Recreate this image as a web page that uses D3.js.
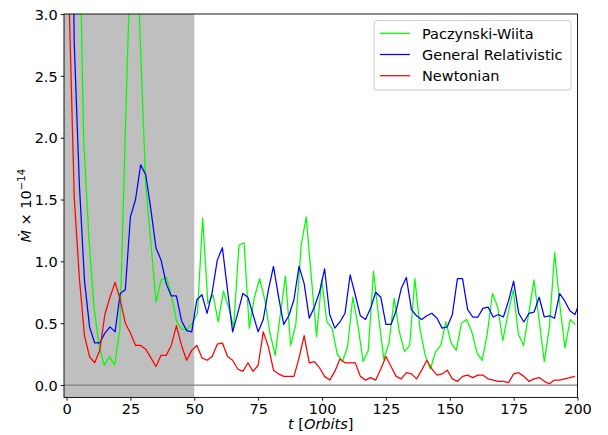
<!DOCTYPE html>
<html>
<head>
<meta charset="utf-8">
<script src="https://cdn.jsdelivr.net/npm/d3@7"></script>
<style>
  html, body { margin: 0; padding: 0; background: #fff; }
  svg { display: block; }
  text { font-family: "DejaVu Sans", sans-serif; fill: #000; }
</style>
</head>
<body>
<svg id="chart" width="608" height="435"></svg>
<script>
// Accretion rate (in units of 1e-14) versus time in orbits for three potentials.
// Newtonian and GR outputs are written every 2 orbits; the Paczynski-Wiita run
// uses a slightly longer output interval once converted to orbits.
const timeNewtonian = d3.range(1, 200, 2);
const timeGR = d3.range(1, 202, 2);
const pwStart = 0.6, pwStep = 2.026;
const timePW = d3.range(99).map(i => pwStart + pwStep * i);

const mdotNewtonian = [
  3.1, 1.52, 0.87, 0.40, 0.23, 0.18, 0.28, 0.57, 0.71, 0.83,
  0.69, 0.50, 0.42, 0.32, 0.32, 0.29, 0.22, 0.15, 0.24, 0.24,
  0.32, 0.48, 0.32, 0.20, 0.28, 0.32, 0.22, 0.20, 0.23, 0.33,
  0.34, 0.23, 0.20, 0.13, 0.11, 0.18, 0.11, 0.16, 0.43, 0.31,
  0.12, 0.09, 0.07, 0.07, 0.07, 0.22, 0.40, 0.18, 0.19, 0.14,
  0.07, 0.04, 0.11, 0.21, 0.18, 0.18, 0.18, 0.07, 0.04, 0.06,
  0.04, 0.13, 0.23, 0.15, 0.07, 0.05, 0.10, 0.09, 0.05, 0.12,
  0.20, 0.13, 0.08, 0.09, 0.12, 0.05, 0.03, 0.07, 0.08, 0.06,
  0.08, 0.08, 0.05, 0.04, 0.03, 0.03, 0.02, 0.09, 0.10, 0.07,
  0.03, 0.05, 0.06, 0.03, 0.01, 0.04, 0.04, 0.05, 0.06, 0.07
];

const mdotGR = [
  6.0, 2.77, 1.63, 0.85, 0.47, 0.34, 0.34, 0.42, 0.47, 0.43,
  0.74, 0.77, 1.36, 1.50, 1.78, 1.70, 1.42, 1.11, 1.01, 0.82,
  0.72, 0.72, 0.52, 0.44, 0.43, 0.69, 0.73, 0.58, 0.75, 1.01,
  1.11, 0.77, 0.43, 0.58, 0.74, 0.71, 0.57, 0.43, 0.53, 0.77,
  0.96, 0.71, 0.49, 0.56, 0.69, 0.96, 0.82, 0.54, 0.63, 0.75,
  0.94, 0.57, 0.46, 0.51, 0.58, 0.89, 0.73, 0.56, 0.53, 0.62,
  0.75, 0.71, 0.49, 0.49, 0.60, 0.78, 0.87, 0.61, 0.56, 0.53,
  0.56, 0.58, 0.54, 0.46, 0.47, 0.57, 0.86, 0.86, 0.61, 0.55,
  0.55, 0.62, 0.63, 0.55, 0.57, 0.55, 0.68, 0.84, 0.58, 0.51,
  0.58, 0.59, 0.71, 0.55, 0.56, 0.54, 0.74, 0.68, 0.60, 0.57,
  0.68
];

const mdotPW = [
  9.0, 6.5, 4.2, 2.0, 1.2, 0.63, 0.31, 0.16, 0.23, 0.16,
  0.45, 1.96, 3.4, 3.9, 2.72, 1.62, 1.15, 0.67, 0.85, 0.87,
  0.71, 0.51, 0.45, 0.45, 0.50, 0.58, 1.35, 0.66, 0.73, 0.51,
  0.76, 0.63, 0.47, 1.13, 1.15, 0.46, 0.71, 0.86, 0.69, 0.42,
  0.24, 0.57, 0.88, 0.32, 0.49, 1.12, 1.36, 0.87, 0.39, 0.85,
  0.51, 0.46, 0.25, 0.19, 0.31, 0.71, 0.48, 0.19, 0.28, 0.92,
  0.55, 0.21, 0.34, 0.70, 0.43, 0.27, 0.32, 0.86, 0.45, 0.24,
  0.13, 0.27, 0.32, 0.51, 0.34, 0.28, 0.50, 0.53, 0.43, 0.26,
  0.20, 0.42, 0.74, 0.63, 0.36, 0.58, 0.77, 0.41, 0.32, 0.58,
  0.85, 0.53, 0.19, 0.47, 1.07, 0.65, 0.30, 0.53, 0.49
];

const seriesNames = ["Paczynski-Wiita", "General Relativistic", "Newtonian"];
const seriesColors = ["#00ff00", "#0000ff", "#ff0000"];
const xTicks = [0, 25, 50, 75, 100, 125, 150, 175, 200];
const yTicks = [0.0, 0.5, 1.0, 1.5, 2.0, 2.5, 3.0];
const transientEnd = 50;

const series = [
  { name: seriesNames[0], color: seriesColors[0], t: timePW, v: mdotPW },
  { name: seriesNames[1], color: seriesColors[1], t: timeGR, v: mdotGR },
  { name: seriesNames[2], color: seriesColors[2], t: timeNewtonian, v: mdotNewtonian }
];

const plot = { left: 64, right: 577.5, top: 14, bottom: 397.4 };
const fontPx = 14.5;

const svg = d3.select("#chart");
const x = d3.scaleLinear().domain([-1, 200]).range([plot.left, plot.right]);
const y = d3.scaleLinear().domain([-0.1, 3.0]).range([plot.bottom, plot.top]);

svg.append("defs").append("clipPath").attr("id", "plotClip")
  .append("rect")
  .attr("x", plot.left).attr("y", plot.top)
  .attr("width", plot.right - plot.left).attr("height", plot.bottom - plot.top);

// shaded start-up interval
svg.append("rect")
  .attr("x", x(-1)).attr("y", plot.top)
  .attr("width", x(transientEnd) - x(-1))
  .attr("height", plot.bottom - plot.top)
  .attr("fill", "#bfbfbf");

// zero reference line
svg.append("line")
  .attr("x1", plot.left).attr("x2", plot.right)
  .attr("y1", y(0)).attr("y2", y(0))
  .attr("stroke", "#808080").attr("stroke-width", 1.3);

const line = d3.line().x(d => x(d[0])).y(d => y(d[1]));
const lines = svg.append("g").attr("clip-path", "url(#plotClip)");
series.forEach(s => {
  lines.append("path")
    .datum(s.t.map((t, i) => [t, s.v[i]]))
    .attr("d", line)
    .attr("fill", "none")
    .attr("stroke", s.color)
    .attr("stroke-width", 1.25)
    .attr("stroke-linejoin", "round");
});

// axes
const xAxis = d3.axisBottom(x).tickValues(xTicks).tickSize(3.3).tickPadding(3)
  .tickFormat(d3.format("d"));
const gx = svg.append("g").attr("transform", `translate(0,${plot.bottom})`).call(xAxis);
const yAxis = d3.axisLeft(y).tickValues(yTicks).tickSize(3.3).tickPadding(3)
  .tickFormat(d3.format(".1f"));
const gy = svg.append("g").attr("transform", `translate(${plot.left},0)`).call(yAxis);
[gx, gy].forEach(g => {
  g.select(".domain").remove();
  g.selectAll(".tick line").attr("stroke", "#000").attr("stroke-width", 0.9);
  g.selectAll(".tick text").attr("font-size", fontPx)
    .style("font-family", '"DejaVu Sans", sans-serif').attr("fill", "#000");
});
gy.selectAll(".tick text").attr("dy", "0.36em");

// frame
svg.append("rect")
  .attr("x", plot.left).attr("y", plot.top)
  .attr("width", plot.right - plot.left).attr("height", plot.bottom - plot.top)
  .attr("fill", "none").attr("stroke", "#000").attr("stroke-width", 0.9);

// axis titles
const xl = svg.append("text")
  .attr("x", (plot.left + plot.right) / 2).attr("y", 429)
  .attr("text-anchor", "middle").attr("font-size", fontPx);
xl.append("tspan").attr("font-style", "italic").text("t");
xl.append("tspan").text(" [");
xl.append("tspan").attr("font-style", "italic").text("Orbits");
xl.append("tspan").text("]");

const yl = svg.append("text")
  .attr("transform", `translate(30.5,${(plot.top + plot.bottom) / 2}) rotate(-90)`)
  .attr("text-anchor", "middle").attr("font-size", fontPx);
yl.append("tspan").attr("font-style", "italic").text("Ṁ");
yl.append("tspan").text(" × 10");
yl.append("tspan").attr("font-size", fontPx * 0.7).attr("dy", -6).text("−14");

// legend
const lg = svg.append("g");
lg.append("rect")
  .attr("x", 374).attr("y", 20.5).attr("width", 197).attr("height", 69.5)
  .attr("rx", 3).attr("fill", "#fff").attr("fill-opacity", 0.8)
  .attr("stroke", "#cccccc").attr("stroke-width", 1);
series.forEach((s, i) => {
  const cy = 33.3 + i * 21.2;
  lg.append("line")
    .attr("x1", 380).attr("x2", 410).attr("y1", cy).attr("y2", cy)
    .attr("stroke", s.color).attr("stroke-width", 1.25);
  lg.append("text")
    .attr("x", 422).attr("y", cy + 5.2)
    .attr("font-size", fontPx).text(s.name);
});
</script>
</body>
</html>
